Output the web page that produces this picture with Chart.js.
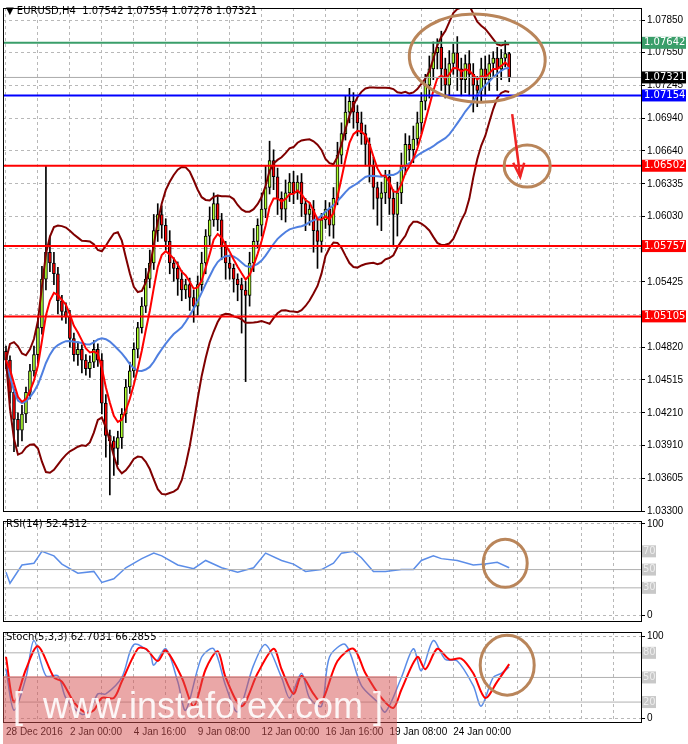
<!DOCTYPE html>
<html>
<head>
<meta charset="utf-8">
<script src="https://cdn.jsdelivr.net/npm/chart.js@4.4.1/dist/chart.umd.min.js"></script>
<style>
  body { margin: 0; background: #fff; font-family: "DejaVu Sans", Arial, sans-serif; }
  #wrap { position: relative; width: 688px; height: 744px; overflow: hidden; }
  .pane { position: absolute; left: 0; width: 688px; }
  .lbl { position: absolute; font-size: 10px; color: #000; white-space: nowrap; }
  #wm { position: absolute; left: 3px; top: 676px; width: 394px; height: 68px; background: rgba(214,80,80,0.5);
        color: rgba(255,255,255,0.9); font-family: "Liberation Sans", Arial, sans-serif; font-size: 36px; line-height: 60px; white-space: nowrap; }
</style>
</head>
<body>
<div id="wrap">
  <div class="pane" style="top:0;height:519px"><canvas id="mainChart"></canvas></div>
  <div class="pane" style="top:513px;height:116px"><canvas id="rsiChart"></canvas></div>
  <div class="pane" style="top:624px;height:120px"><canvas id="stochChart"></canvas></div>
  <div class="lbl" style="left:6px;top:5px">&#9660; EURUSD,H4 &nbsp;1.07542 1.07554 1.07278 1.07321</div>
  <div class="lbl" style="left:6px;top:518px">RSI(14) 52.4312</div>
  <div class="lbl" style="left:6px;top:631px">Stoch(5,3,3) 62.7031 66.2855</div>
  <div id="wm">&nbsp;[&nbsp; www.instaforex.com ]</div>
</div>
<script>
// H4 closes, one per bar
const closes = [
  1.0470,1.0440,1.0415,1.0405,1.0420, 1.0440,1.0460,1.0475,
  1.0500,1.0545,1.0570,1.0560, 1.0550,1.0525,1.0515,1.0510,
  1.0490,1.0475,1.0480,1.0470, 1.0462,1.0468,1.0480,1.0470,
  1.0430,1.0400,1.0395,1.0388, 1.0398,1.0420,1.0445,1.0460,
  1.0480,1.0500,1.0520,1.0545, 1.0560,1.0590,1.0605,1.0595,
  1.0580,1.0560,1.0555,1.0545, 1.0535,1.0540,1.0528,1.0520,
  1.0540,1.0560,1.0585,1.0600, 1.0615,1.0600,1.0575,1.0560,
  1.0555,1.0545,1.0540,1.0535, 1.0530,1.0560,1.0580,1.0595,
  1.0610,1.0630,1.0655,1.0640, 1.0620,1.0610,1.0625,1.0635,
  1.0625,1.0635,1.0615,1.0605, 1.0610,1.0590,1.0580,1.0600,
  1.0610,1.0595,1.0620,1.0660, 1.0680,1.0700,1.0710,1.0700,
  1.0690,1.0680,1.0670,1.0650, 1.0630,1.0620,1.0625,1.0640,
  1.0620,1.0605,1.0625,1.0650, 1.0670,1.0665,1.0675,1.0690,
  1.0710,1.0725,1.0740,1.0755, 1.0760,1.0740,1.0725,1.0745,
  1.0755,1.0740,1.0730,1.0745, 1.0735,1.0725,1.0720,1.0740,
  1.0730,1.0745,1.0750,1.0740, 1.0750,1.07542,1.07321
];
const firstOpen = 1.0478;
// wick lengths in pips above / below the body
const upWick = [
  5,4,3,6,8, 5,6,8, 10,12,80,15, 10,6,5,8,
  6,5,7,4, 5,6,8,5, 6,8,5,4, 6,5,7,8,
  6,5,8,10, 12,15,10,8, 6,10,5,6, 8,5,6,7,
  8,10,6,12, 10,8,6,5, 6,4,5,6, 8,10,12,6,
  15,20,18,10, 8,6,12,8, 10,6,8,5, 6,8,10,6,
  8,6,10,12, 10,15,12,8, 6,10,8,6, 8,5,10,6,
  6,8,10,12, 10,8,12,10, 8,10,12,10, 8,15,10,12,
  8,15,10,8, 12,10,8,10, 12,8,6,10, 8,12,1.2
];
const downWick = [
  8,10,30,15,10, 8,6,5, 8,6,10,8, 10,12,8,6,
  8,6,10,12, 6,8,5,6, 10,20,50,25, 15,10,8,6,
  6,8,5,6, 8,6,10,12, 8,10,12,15, 10,8,12,15,
  8,6,10,8, 6,10,12,15, 10,12,15,40, 80,10,8,6,
  10,8,6,12, 15,10,12,8, 10,6,12,15, 10,20,25,10,
  8,10,12,6, 8,6,10,15, 12,10,20,15, 20,25,30,10,
  15,30,20,10, 8,10,12,6, 10,8,12,10, 15,20,12,10,
  10,20,15,12, 20,25,15,10, 15,10,12,20, 10,8,4
];

// x axis labels (bar index -> text)
const timeTicks = [0, 16, 32, 48, 64, 80, 96, 112];
const timeLabels = ['28 Dec 2016', '2 Jan 00:00', '4 Jan 16:00', '9 Jan 08:00',
                    '12 Jan 00:00', '16 Jan 16:00', '19 Jan 08:00', '24 Jan 00:00'];
const priceTicks = [1.07850,1.07550,1.07245,1.06940,1.06640,1.06335,1.06030,1.05730,
                    1.05425,1.05120,1.04820,1.04515,1.04210,1.03910,1.03605,1.03300];

// horizontal levels
const levelValues = [1.07642, 1.07154, 1.06502, 1.05757, 1.05105];
const levelColors = ['#3a9e6a', '#0000ff', '#ff0000', '#ff0000', '#ff0000'];
const lastPrice = 1.07321;

// RSI(14): bar index / value
const rsiBars = [0,1,4,7,9,12,14,18,22,24,27,30,34,37,39,43,47,50,54,58,62,65,69,72,75,79,82,84,87,89,92,95,99,102,104,107,109,113,117,120,123,126];
const rsiVals = [47,35,55,57,70,65,56,46,48,36,40,52,62,68,65,55,51,60,52,47,52,68,60,56,48,50,57,68,70,63,48,48,50,50,60,65,62,60,55,56,58,52];

// Stochastic main (%K) and signal
const kBars = [0,2,5,7,10,13,15,19,21,23,25,29,32,36,37,40,43,45,49,52,55,58,62,65,69,71,74,76,79,81,85,89,93,95,99,102,104,107,110,113,117,119,122,124,126];
const kVals = [60,10,50,95,52,52,25,5,10,30,30,50,90,80,65,85,45,10,75,85,40,8,65,90,50,25,55,25,15,75,90,40,20,8,50,85,58,95,72,70,40,15,50,55,62.7];
const dBars = [0,2,5,8,12,14,17,20,22,24,27,29,33,35,38,40,44,47,50,53,55,59,63,67,69,72,74,77,79,83,87,90,94,97,99,103,105,108,111,114,117,120,123,126];
const dVals = [75,20,60,88,50,45,20,7,10,25,25,45,85,85,70,83,50,15,60,82,50,15,55,85,60,30,52,30,20,70,85,55,25,13,35,75,60,85,72,73,55,25,45,66.3];

const N = closes.length;
const opens = closes.map((c, i) => i === 0 ? firstOpen : closes[i - 1]);

function sma(arr, p) {
  return arr.map((v, i) => {
    const s = arr.slice(Math.max(0, i - p + 1), i + 1);
    return s.reduce((a, b) => a + b, 0) / s.length;
  });
}
function ema(arr, p) {
  const k = 2 / (p + 1);
  let prev = arr[0];
  return arr.map(v => (prev = v * k + prev * (1 - k)));
}
const fast = ema(closes, 6);
const slow = sma(closes, 21);
const mid = sma(closes, 20);
const upper = [], lower = [];
closes.forEach((c, i) => {
  const s = closes.slice(Math.max(0, i - 19), i + 1);
  const m = mid[i];
  const sd = Math.sqrt(s.reduce((a, b) => a + (b - m) * (b - m), 0) / s.length);
  upper.push(m + 2 * sd);
  lower.push(m - 2 * sd);
});

const XMIN = -0.75, XMAX = 159;
const AXIS_W = 47;

function frame(extra) {
  return {
    id: 'frame',
    afterDraw(chart) {
      const { ctx, chartArea: a } = chart;
      ctx.save();
      if (extra) extra(chart);
      ctx.strokeStyle = '#000';
      ctx.lineWidth = 1;
      ctx.strokeRect(a.left + 0.5, a.top + 0.5, a.right - a.left, a.bottom - a.top);
      ctx.restore();
    }
  };
}

function xScale(show) {
  return {
    type: 'linear', min: XMIN, max: XMAX, display: true, offset: false,
    afterBuildTicks(s) { s.ticks = []; for (let v = 0; v < XMAX; v += 8) s.ticks.push({ value: v }); },
    grid: { color: '#b8b8b8', drawTicks: false, offset: false },
    border: { display: false, dash: [3, 3] },
    ticks: {
      display: show, align: 'start', maxRotation: 0, autoSkip: false, padding: 4,
      font: { size: 10 }, color: '#000',
      callback(v) { const j = timeTicks.indexOf(v); return j >= 0 ? timeLabels[j] : ''; }
    },
    afterFit(s) { s.height = show ? 20 : 0; }
  };
}
function yScale(min, max, ticks, fmt, color) {
  return {
    type: 'linear', position: 'right', min, max,
    afterBuildTicks(s) { s.ticks = ticks.map(v => ({ value: v })); },
    afterFit(s) { s.width = AXIS_W; },
    grid: { color: '#b8b8b8', tickLength: 4, tickColor: '#000' },
    border: { display: false, dash: [3, 3] },
    ticks: { font: { size: 10 }, color: color || '#000', padding: 2, callback: fmt }
  };
}

// ---------- main price chart ----------
const candleBodies = closes.map((c, i) => ({ x: i, y: [opens[i], c] }));
const candleWicks = closes.map((c, i) => ({
  x: i,
  y: [Math.min(opens[i], c) - downWick[i] / 10000, Math.max(opens[i], c) + upWick[i] / 10000]
}));
const line = (arr) => arr.map((v, i) => ({ x: i, y: v }));

function labelBox(ctx, y, text, bg, fg, a) {
  ctx.fillStyle = bg;
  ctx.fillRect(a.right + 1, y - 6, 44, 12);
  ctx.fillStyle = fg;
  ctx.font = '10px "DejaVu Sans"';
  ctx.textBaseline = 'middle';
  ctx.fillText(text, a.right + 3, y);
}

new Chart(document.getElementById('mainChart'), {
  data: {
    datasets: [
      { type: 'bar', data: candleWicks, backgroundColor: '#000', barThickness: 1, grouped: false, order: 3 },
      { type: 'bar', data: candleBodies, grouped: false, barThickness: 3, order: 2,
        backgroundColor: closes.map((c, i) => c >= opens[i] ? '#adff2f' : '#ff0000'),
        borderColor: '#000', borderWidth: 1, borderSkipped: false },
      { type: 'line', data: line(upper), borderColor: '#800000', borderWidth: 2, pointRadius: 0, order: 1 },
      { type: 'line', data: line(lower), borderColor: '#800000', borderWidth: 2, pointRadius: 0, order: 1 },
      { type: 'line', data: line(slow), borderColor: '#4f7fe0', borderWidth: 2, pointRadius: 0, order: 1 },
      { type: 'line', data: line(fast), borderColor: '#ff0000', borderWidth: 2, pointRadius: 0, order: 0 }
    ]
  },
  options: {
    responsive: true, maintainAspectRatio: false, animation: false,
    layout: { padding: { top: 3, left: 3, bottom: 2, right: 0 } },
    plugins: { legend: { display: false }, tooltip: { enabled: false } },
    scales: {
      x: xScale(false),
      y: yScale(1.03300, 1.07965, priceTicks, v => v.toFixed(5))
    }
  },
  plugins: [frame(chart => {
    const { ctx, chartArea: a, scales: { x, y } } = chart;
    // current price line
    ctx.strokeStyle = '#aaa'; ctx.lineWidth = 1;
    ctx.beginPath(); ctx.moveTo(a.left, y.getPixelForValue(lastPrice)); ctx.lineTo(a.right, y.getPixelForValue(lastPrice)); ctx.stroke();
    levelValues.forEach((v, i) => {
      const py = y.getPixelForValue(v);
      ctx.strokeStyle = levelColors[i]; ctx.lineWidth = 2;
      ctx.beginPath(); ctx.moveTo(a.left, py); ctx.lineTo(a.right, py); ctx.stroke();
    });
    // annotations
    ctx.strokeStyle = '#b9855a'; ctx.lineWidth = 3;
    ctx.beginPath(); ctx.ellipse(x.getPixelForValue(118), y.getPixelForValue(1.0750), 68, 44, 0.05, 0, Math.PI * 2); ctx.stroke();
    ctx.beginPath(); ctx.ellipse(x.getPixelForValue(130.5), y.getPixelForValue(1.0650), 23, 21, 0, 0, Math.PI * 2); ctx.stroke();
    const ax = x.getPixelForValue(128), ay1 = y.getPixelForValue(1.0698), ay2 = y.getPixelForValue(1.0640);
    ctx.strokeStyle = '#ee2222'; ctx.lineWidth = 2.5;
    ctx.beginPath(); ctx.moveTo(ax - 5, ay1); ctx.lineTo(ax + 3, ay2); ctx.stroke();
    ctx.beginPath(); ctx.moveTo(ax - 4, ay2 - 14); ctx.lineTo(ax + 3, ay2); ctx.lineTo(ax + 7, ay2 - 14); ctx.stroke();
    // price boxes
    levelValues.forEach((v, i) => labelBox(ctx, y.getPixelForValue(v), v.toFixed(5), levelColors[i], '#fff', a));
    labelBox(ctx, y.getPixelForValue(lastPrice), lastPrice.toFixed(5), '#000', '#fff', a);
  })]
});

// ---------- RSI ----------
new Chart(document.getElementById('rsiChart'), {
  type: 'line',
  data: { datasets: [{ data: rsiBars.map((b, i) => ({ x: b, y: rsiVals[i] })), borderColor: '#5b8de8', borderWidth: 1.5, pointRadius: 0 }] },
  options: {
    responsive: true, maintainAspectRatio: false, animation: false,
    layout: { padding: { top: 2, left: 3, bottom: 3, right: 0 } },
    plugins: { legend: { display: false }, tooltip: { enabled: false } },
    scales: { x: xScale(false), y: yScale(-6.3, 103.2, [0, 100], v => String(v)) }
  },
  plugins: [frame(chart => {
    const { ctx, chartArea: a, scales: { y } } = chart;
    [70, 50, 30].forEach(v => {
      const py = y.getPixelForValue(v);
      ctx.strokeStyle = '#b0b0b0'; ctx.lineWidth = 1;
      ctx.beginPath(); ctx.moveTo(a.left, py); ctx.lineTo(a.right, py); ctx.stroke();
      ctx.fillStyle = '#c8c8c8'; ctx.fillRect(a.right + 1, py - 6, 14, 12);
      ctx.fillStyle = '#eee'; ctx.font = '10px "DejaVu Sans"'; ctx.textBaseline = 'middle';
      ctx.fillText(String(v), a.right + 2, py);
    });
    ctx.strokeStyle = '#b9855a'; ctx.lineWidth = 3;
    ctx.beginPath(); ctx.ellipse(chart.scales.x.getPixelForValue(125), y.getPixelForValue(57), 22, 24, 0, 0, Math.PI * 2); ctx.stroke();
  })]
});

// ---------- Stochastic ----------
new Chart(document.getElementById('stochChart'), {
  type: 'line',
  data: { datasets: [
    { data: dBars.map((b, i) => ({ x: b, y: dVals[i] })), borderColor: '#ff0000', borderWidth: 2, pointRadius: 0, tension: 0.3 },
    { data: kBars.map((b, i) => ({ x: b, y: kVals[i] })), borderColor: '#5b8de8', borderWidth: 1.5, pointRadius: 0, tension: 0.3 }
  ] },
  options: {
    responsive: true, maintainAspectRatio: false, animation: false,
    layout: { padding: { top: 4, left: 3, bottom: 2, right: 0 } },
    plugins: { legend: { display: false }, tooltip: { enabled: false } },
    scales: { x: xScale(true), y: yScale(-4.3, 105.4, [0, 100], v => String(v)) }
  },
  plugins: [frame(chart => {
    const { ctx, chartArea: a, scales: { y } } = chart;
    [80, 50, 20].forEach(v => {
      const py = y.getPixelForValue(v);
      ctx.strokeStyle = '#b0b0b0'; ctx.lineWidth = 1;
      ctx.beginPath(); ctx.moveTo(a.left, py); ctx.lineTo(a.right, py); ctx.stroke();
      ctx.fillStyle = '#c8c8c8'; ctx.fillRect(a.right + 1, py - 6, 14, 12);
      ctx.fillStyle = '#eee'; ctx.font = '10px "DejaVu Sans"'; ctx.textBaseline = 'middle';
      ctx.fillText(String(v), a.right + 2, py);
    });
    ctx.strokeStyle = '#b9855a'; ctx.lineWidth = 3;
    ctx.beginPath(); ctx.ellipse(chart.scales.x.getPixelForValue(125.5), y.getPixelForValue(65), 27, 30, 0, 0, Math.PI * 2); ctx.stroke();
  })]
});
</script>
</body>
</html>
